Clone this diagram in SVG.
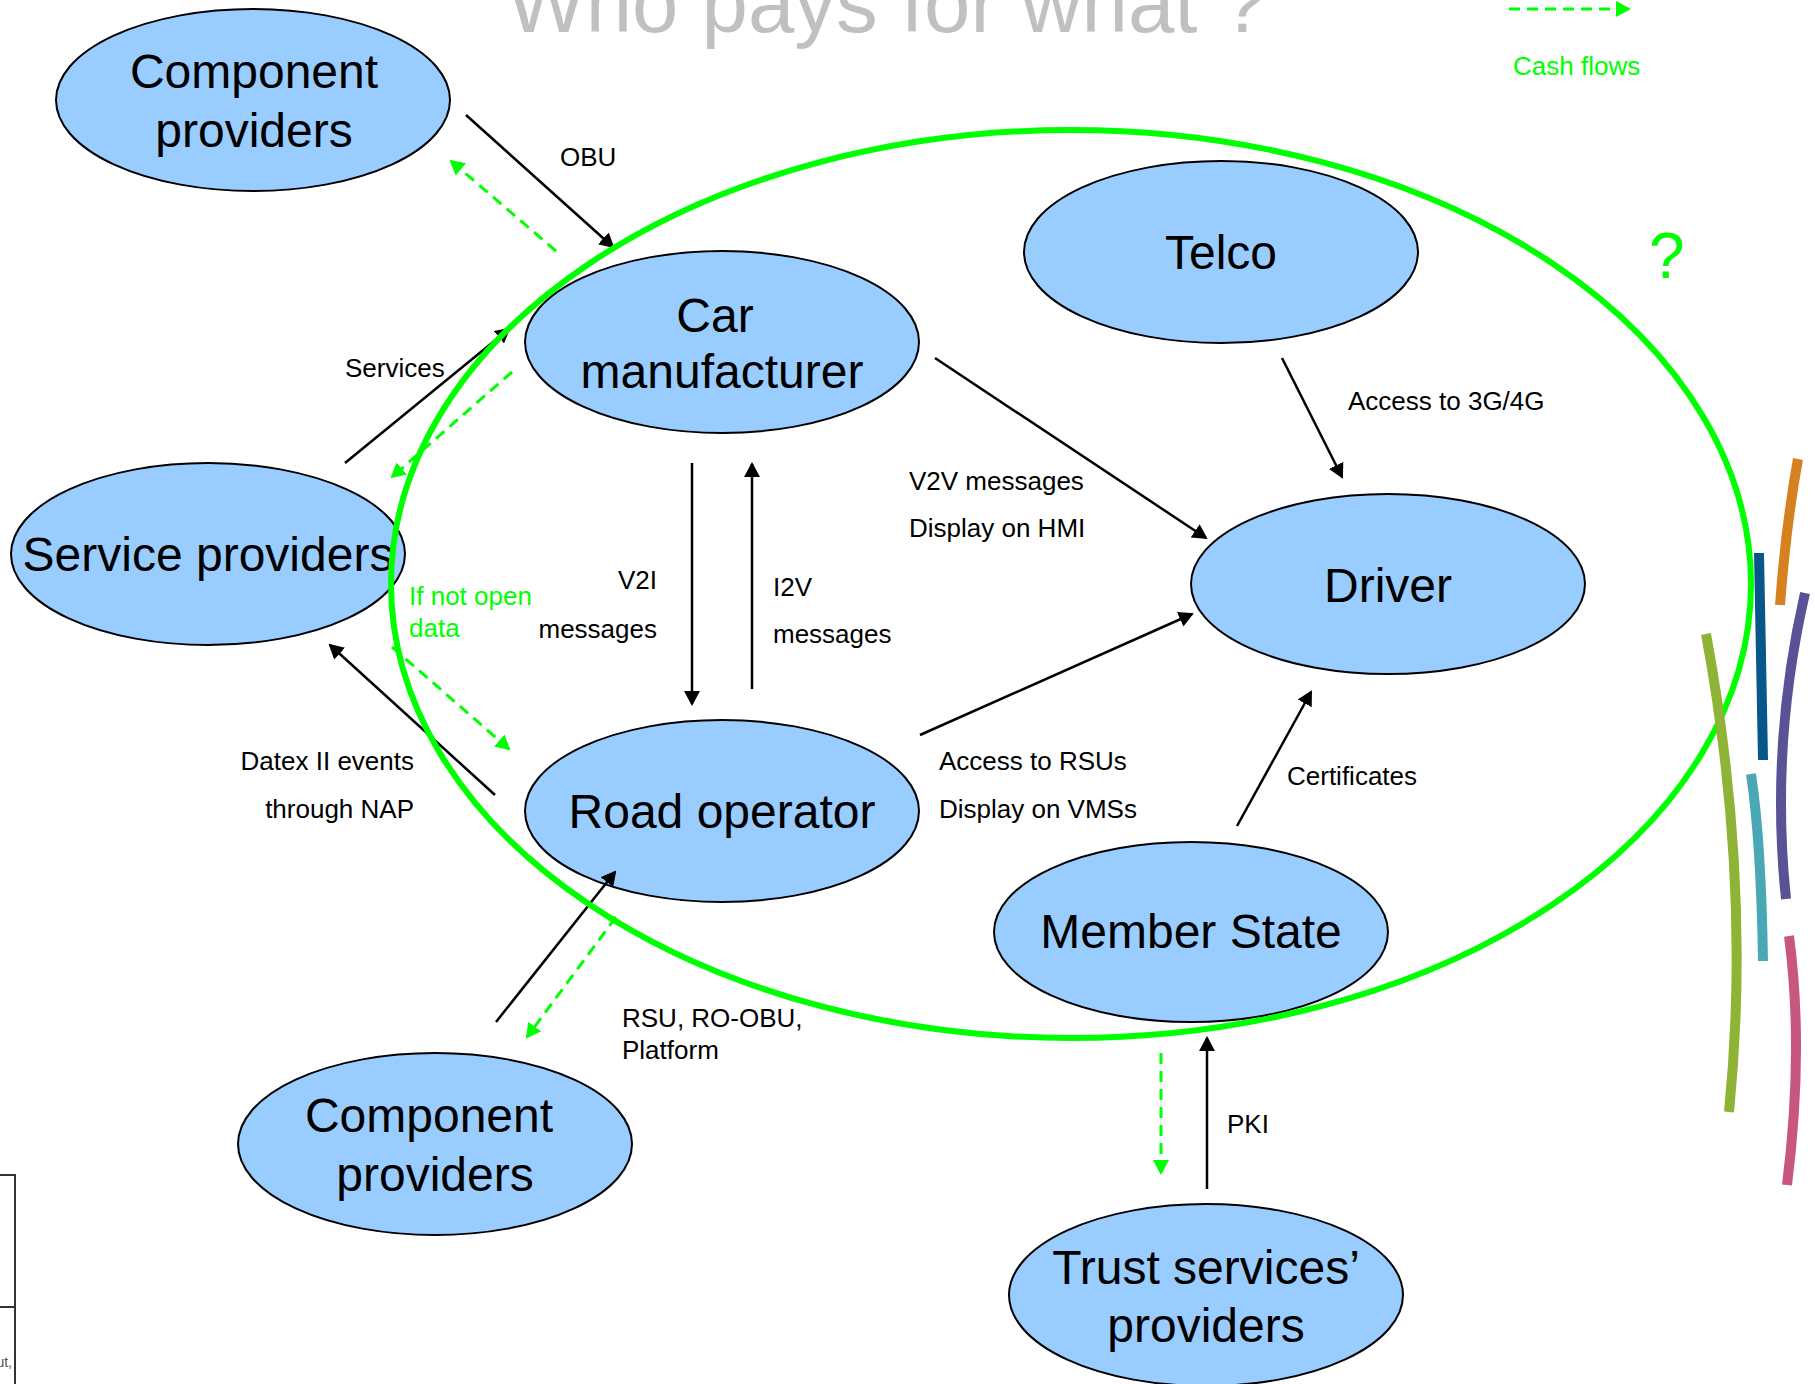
<svg xmlns="http://www.w3.org/2000/svg" width="1815" height="1384" viewBox="0 0 1815 1384">
  <style>
    .node ellipse { fill: #99ccff; stroke: #000; stroke-width: 2; }
    .node text { font-family: "Liberation Sans", Arial, sans-serif; font-size: 48px; fill: #000; text-anchor: middle; }
    .flow { stroke: #000; stroke-width: 2.5; fill: none; marker-end: url(#arrow-black); }
    .cash { stroke: #00ff00; stroke-width: 3; stroke-dasharray: 11 7; fill: none; marker-end: url(#arrow-green); }
    .lbl { font-family: "Liberation Sans", Arial, sans-serif; font-size: 26px; fill: #000; }
    .lbl-green { font-family: "Liberation Sans", Arial, sans-serif; font-size: 26px; fill: #00ff00; }
    .end { text-anchor: end; }
    .bar { fill: none; stroke-width: 10; stroke-linecap: butt; }
  </style>
  <defs>
    <marker id="arrow-black" markerUnits="userSpaceOnUse" markerWidth="16" markerHeight="16" refX="13" refY="8" orient="auto">
      <path d="M0,0 L15,8 L0,16 Z" fill="#000"/>
    </marker>
    <marker id="arrow-green" markerUnits="userSpaceOnUse" markerWidth="16" markerHeight="16" refX="13" refY="8" orient="auto">
      <path d="M0,0 L15,8 L0,16 Z" fill="#00ff00"/>
    </marker>
  </defs>

  <rect width="1815" height="1384" fill="#fff"/>

  <!-- title, partly above the top edge -->
  <text x="507" y="32" font-family="'Liberation Sans', Arial, sans-serif" font-size="84" fill="#c0c0c0" textLength="760" lengthAdjust="spacingAndGlyphs">Who pays for what ?</text>

  <!-- legend -->
  <g id="legend">
    <line class="cash" x1="1509" y1="9" x2="1629" y2="9"/>
    <text class="lbl-green" x="1513" y="75">Cash flows</text>
  </g>
  <text x="1649" y="278" font-family="'Liberation Sans', Arial, sans-serif" font-size="64" fill="#00ff00">?</text>

  <!-- nodes -->
  <g id="component-providers-top" class="node">
    <ellipse cx="253" cy="100" rx="197" ry="91"/>
    <text x="254" y="88">Component</text>
    <text x="254" y="147">providers</text>
  </g>
  <g id="car-manufacturer" class="node">
    <ellipse cx="722" cy="342" rx="197" ry="91"/>
    <text x="715" y="332">Car</text>
    <text x="722" y="388">manufacturer</text>
  </g>
  <g id="telco" class="node">
    <ellipse cx="1221" cy="252" rx="197" ry="91"/>
    <text x="1221" y="269">Telco</text>
  </g>
  <g id="service-providers" class="node">
    <ellipse cx="208" cy="554" rx="197" ry="91"/>
    <text x="208" y="571">Service providers</text>
  </g>
  <g id="driver" class="node">
    <ellipse cx="1388" cy="584" rx="197" ry="90"/>
    <text x="1388" y="602">Driver</text>
  </g>
  <g id="road-operator" class="node">
    <ellipse cx="722" cy="811" rx="197" ry="91"/>
    <text x="722" y="828">Road operator</text>
  </g>
  <g id="member-state" class="node">
    <ellipse cx="1191" cy="932" rx="197" ry="90"/>
    <text x="1191" y="948">Member State</text>
  </g>
  <g id="component-providers-bottom" class="node">
    <ellipse cx="435" cy="1144" rx="197" ry="91"/>
    <text x="429" y="1132">Component</text>
    <text x="435" y="1191">providers</text>
  </g>
  <g id="trust-services-providers" class="node">
    <ellipse cx="1206" cy="1295" rx="197" ry="91"/>
    <text x="1206" y="1284">Trust services’</text>
    <text x="1206" y="1342">providers</text>
  </g>

  <!-- connectors -->
  <g id="connectors">
    <line class="flow" x1="466" y1="115" x2="613" y2="247"/>
    <line class="flow" x1="345" y1="463" x2="509" y2="329"/>
    <line class="flow" x1="692" y1="463" x2="692" y2="704"/>
    <line class="flow" x1="752" y1="689" x2="752" y2="464"/>
    <line class="flow" x1="935" y1="358" x2="1206" y2="538"/>
    <line class="flow" x1="1282" y1="358" x2="1342" y2="477"/>
    <line class="flow" x1="920" y1="735" x2="1192" y2="614"/>
    <line class="flow" x1="1237" y1="826" x2="1311" y2="692"/>
    <line class="flow" x1="495" y1="795" x2="330" y2="645"/>
    <line class="flow" x1="496" y1="1022" x2="615" y2="872"/>
    <line class="flow" x1="1207" y1="1189" x2="1207" y2="1038"/>

    <line class="cash" x1="556" y1="251" x2="451" y2="161"/>
    <line class="cash" x1="512" y1="372" x2="392" y2="477"/>
    <line class="cash" x1="392" y1="647" x2="509" y2="749"/>
    <line class="cash" x1="616" y1="917" x2="527" y2="1037"/>
    <line class="cash" x1="1161" y1="1053" x2="1161" y2="1173"/>

    <text class="lbl" x="560" y="166">OBU</text>
    <text class="lbl" x="345" y="377">Services</text>
    <text class="lbl end" x="657" y="589">V2I</text>
    <text class="lbl end" x="657" y="638">messages</text>
    <text class="lbl" x="773" y="596">I2V</text>
    <text class="lbl" x="773" y="643">messages</text>
    <text class="lbl" x="909" y="490">V2V messages</text>
    <text class="lbl" x="909" y="537">Display on HMI</text>
    <text class="lbl" x="1348" y="410">Access to 3G/4G</text>
    <text class="lbl" x="939" y="770">Access to RSUs</text>
    <text class="lbl" x="939" y="818">Display on VMSs</text>
    <text class="lbl" x="1287" y="785">Certificates</text>
    <text class="lbl end" x="414" y="770">Datex II events</text>
    <text class="lbl end" x="414" y="818">through NAP</text>
    <text class="lbl" x="622" y="1027">RSU, RO-OBU,</text>
    <text class="lbl" x="622" y="1059">Platform</text>
    <text class="lbl" x="1227" y="1133">PKI</text>
    <text class="lbl-green" x="409" y="605">If not open</text>
    <text class="lbl-green" x="409" y="637">data</text>
  </g>

  <!-- boundary around the C-ITS actors -->
  <ellipse id="boundary" cx="1071" cy="584" rx="680" ry="454" fill="none" stroke="#00ff00" stroke-width="6"/>

  <!-- coloured strokes at the right margin -->
  <g id="margin-strokes">
    <path class="bar" stroke="#d68120" d="M1798,459 Q1786,525 1780,605"/>
    <path class="bar" stroke="#07578a" d="M1759,553 L1763,760"/>
    <path class="bar" stroke="#5a5296" d="M1805,593 Q1770,746 1786,899"/>
    <path class="bar" stroke="#8eb336" d="M1706,634 Q1752,883 1729,1112"/>
    <path class="bar" stroke="#4aa8b5" d="M1751,774 Q1761,840 1763,961"/>
    <path class="bar" stroke="#c95680" d="M1789,936 Q1804,1050 1787,1185"/>
  </g>

  <!-- fragment of a framed box at the lower left edge -->
  <g id="corner-box" fill="none" stroke="#333" stroke-width="2">
    <path d="M0,1175 H15 V1384"/>
    <line x1="0" y1="1307" x2="15" y2="1307"/>
  </g>
  <text x="12" y="1367" font-family="'Liberation Sans', Arial, sans-serif" font-size="14" fill="#555" text-anchor="end">ut,</text>
</svg>
